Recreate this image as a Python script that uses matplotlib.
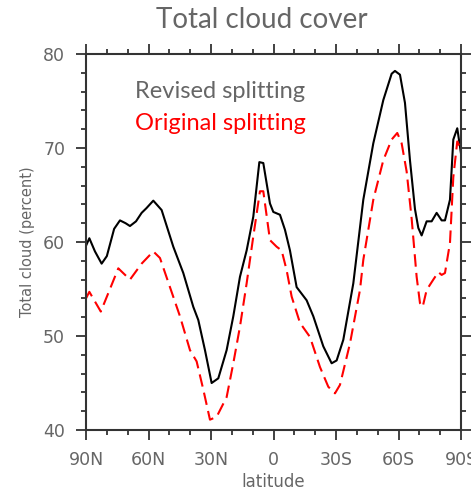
import matplotlib.pyplot as plt
from matplotlib.ticker import MultipleLocator

# latitude (north positive) and total cloud (percent)
lat_rev = [90, 88.4, 85.7, 82.5, 80, 76.5, 73.7, 71, 68.9, 66, 63.3, 61, 57.7,
           53.7, 48.1, 43.3, 38.5, 36.1, 32.9, 29.7, 26.5, 22.5, 19.3, 16.1,
           12.9, 9.7, 6.8, 4.9, 1.7, 0.1, -3.1, -5.5, -7.9, -11.1, -15.9,
           -19.1, -23.9, -27.9, -30.3, -33.5, -38.3, -43.1, -47.9, -52.7,
           -56.7, -58.3, -60.7, -63.1, -65.5, -67.9, -69.5, -71.1, -73.5,
           -75.9, -78.3, -80.7, -82.3, -84.7, -86.3, -88.2, -90]
cld_rev = [59.6, 60.4, 59.0, 57.7, 58.5, 61.4, 62.3, 62.0, 61.7, 62.2, 63.1,
           63.6, 64.4, 63.4, 59.5, 56.7, 53.1, 51.7, 48.5, 45.0, 45.5, 48.5,
           52.1, 56.3, 59.1, 62.7, 68.5, 68.4, 64.1, 63.2, 62.9, 61.3, 59.1,
           55.2, 53.8, 52.1, 48.9, 47.1, 47.4, 49.6, 55.6, 64.5, 70.5, 75.1,
           77.9, 78.2, 77.8, 74.8, 68.7, 63.5, 61.5, 60.7, 62.2, 62.2, 63.1,
           62.3, 62.3, 64.5, 70.9, 72.1, 69.4]

lat_orig = [90, 88.4, 82.9, 78.5, 74.5, 68.9, 63.3, 57.7, 54.5, 49.7, 44.9,
            40.1, 36.9, 33.7, 30.5, 27.3, 24.1, 22.5, 19.3, 16.1, 12.9, 9.7,
            6.5, 4.9, 1.7, -1.5, -3.9, -6.3, -8.7, -12.7, -17.5, -22.3, -26.3,
            -29.5, -31.9, -36.7, -41.5, -43.1, -47.9, -52.7, -56.7, -59.4,
            -61.5, -63.9, -66.3, -68.7, -70.3, -71.6, -73.5, -76.7, -79.1,
            -80.7, -82.3, -84.7, -86.3, -88.2, -89.5]
cld_orig = [54.0, 54.7, 52.6, 55.0, 57.2, 56.0, 57.7, 59.0, 58.3, 55.2, 52.1,
            48.5, 47.3, 44.3, 41.1, 41.4, 42.8, 43.5, 47.1, 51.0, 55.6, 60.6,
            65.4, 65.4, 60.2, 59.5, 59.1, 57.0, 54.2, 51.4, 49.9, 46.7, 44.6,
            43.9, 44.8, 49.2, 54.9, 58.1, 64.5, 68.7, 70.9, 71.6, 70.5, 67.5,
            62.5, 56.3, 53.5, 53.1, 54.9, 56.0, 56.8, 56.5, 56.7, 59.9, 66.9,
            70.7, 70.1]

xticks = [90, 60, 30, 0, -30, -60, -90]
xticklabels = ['90N', '60N', '30N', '0', '30S', '60S', '90S']

fig = plt.figure(figsize=(4.71, 4.91), dpi=100)
ax = fig.add_axes([0.1826, 0.1242, 0.7962, 0.7658])

ax.plot(lat_rev, cld_rev, color='black', lw=1.5)
ax.plot(lat_orig, cld_orig, color='red', lw=1.5, dashes=(6, 3))

ax.set_xlim(90, -90)
ax.set_ylim(40, 80)
ax.set_xticks(xticks)
ax.set_xticklabels(xticklabels)
ax.set_yticks([40, 50, 60, 70, 80])
ax.xaxis.set_minor_locator(MultipleLocator(10))
ax.yaxis.set_minor_locator(MultipleLocator(2))
ax.tick_params(which='both', direction='out', top=True, right=True,
               labelcolor='#666666', color='#333333', width=1.3,
               labelsize=12.5)
ax.tick_params(which='major', length=7, pad=8)
ax.tick_params(which='minor', length=3.5)
for s in ax.spines.values():
    s.set_linewidth(1.5)
    s.set_color('#333333')

ax.set_xlabel('latitude', color='#666666', fontsize=12, labelpad=3)
ax.set_ylabel('Total cloud (percent)', color='#666666', fontsize=10.5,
              labelpad=6)

ax.text(0.131, 0.900, 'Revised splitting', transform=ax.transAxes,
        family='Lato', fontsize=17, color='#666666', va='center')
ax.text(0.131, 0.815, 'Original splitting', transform=ax.transAxes,
        family='Lato', fontsize=17, color='red', va='center')

fig.text(0.556, 0.959, 'Total cloud cover', family='Lato', fontsize=20,
         color='#666666', ha='center', va='center')

fig.savefig('out.png', dpi=100)
